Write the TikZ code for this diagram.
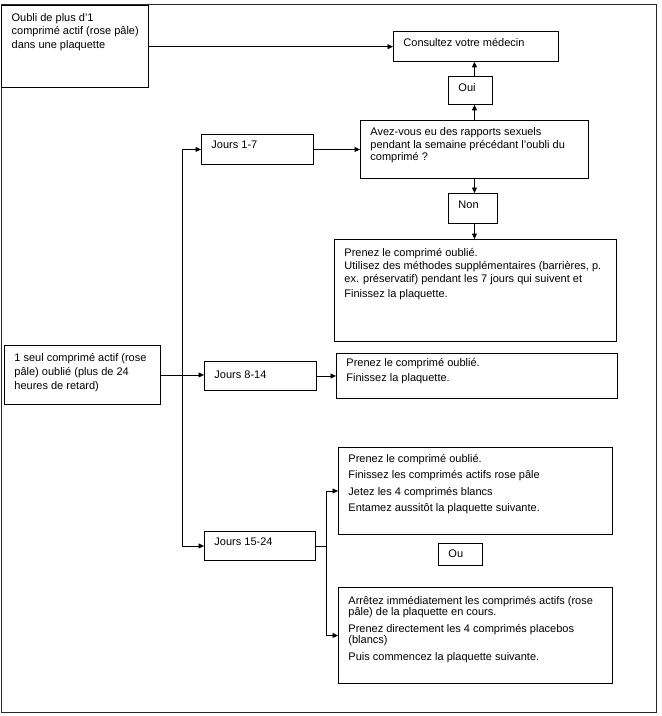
\documentclass[tikz,border=0pt]{standalone}
\usepackage{fontspec}
\setmainfont{Liberation Sans}
\usetikzlibrary{arrows.meta,calc}
\newcommand\bt[4][14.5pt]{\makebox[#2][l]{\hspace*{10pt}\parbox[c][#3][t]{#2}{\raggedright\rule{0pt}{#1}#4}}}
\begin{document}
\begin{tikzpicture}[x=1pt,y=-1pt,
  bx/.style={draw=black,line width=0.9pt,anchor=north west,inner sep=0pt,font=\fontsize{11}{12.5}\selectfont},
  arr/.style={-{Triangle[length=5.5pt,width=5pt]},line width=0.9pt},
  ln/.style={line width=0.9pt}]
\useasboundingbox (0,0) rectangle (662,716);
\draw[line width=1pt,draw=black!85] (1,4) rectangle (656,712);

\node[bx,line width=1.3pt] (a) at (1,5) {\bt[15.5pt]{147pt}{82pt}{Oubli de plus d’1\\[1pt]comprimé actif (rose pâle)\\[1pt]dans une plaquette}};
\node[bx] (cons) at (393,31) {\bt[15pt]{165pt}{30pt}{Consultez votre médecin}};
\node[bx] (oui) at (448,76) {\bt[15pt]{44pt}{28pt}{Oui}};
\node[bx] (q) at (360,120) {\bt[15.5pt]{228pt}{58pt}{Avez-vous eu des rapports sexuels\\pendant la semaine précédant l’oubli du\\comprimé ?}};
\node[bx] (j1) at (201,134) {\bt[14pt]{112pt}{30pt}{Jours 1-7}};
\node[bx] (non) at (448,193) {\bt[15pt]{49pt}{30pt}{Non}};
\node[bx] (c) at (334,239) {\bt[17pt]{282pt}{102pt}{Prenez le comprimé oublié.\\[0.5pt]Utilisez des méthodes supplémentaires (barrières, p.\\[0.5pt]ex. préservatif) pendant les 7 jours qui suivent et\\[2.5pt]Finissez la plaquette.}};
\node[bx] (b1) at (4,345) {\bt[16pt]{156pt}{59pt}{1 seul comprimé actif (rose\\[1.5pt]pâle) oublié (plus de 24\\[1.5pt]heures de retard)}};
\node[bx] (j8) at (204,361) {\bt[17pt]{112pt}{29pt}{Jours 8-14}};
\node[bx] (d) at (336,353) {\bt[13pt]{281pt}{45pt}{Prenez le comprimé oublié.\\[2.5pt]Finissez la plaquette.}};
\node[bx] (e) at (338,447) {\bt[15pt]{274pt}{87pt}{Prenez le comprimé oublié.\\[4pt]Finissez les comprimés actifs rose pâle\\[4pt]Jetez les 4 comprimés blancs\\[4pt]Entamez aussitôt la plaquette suivante.}};
\node[bx] (j15) at (204,531) {\bt[14pt]{111pt}{29pt}{Jours 15-24}};
\node[bx] (ou) at (438,543) {\bt[14pt]{44pt}{22pt}{Ou}};
\node[bx] (f) at (338,587) {\bt[17pt]{274pt}{96pt}{Arrêtez immédiatement les comprimés actifs (rose\\[-1pt]pâle) de la plaquette en cours.\\[4pt]Prenez directement les 4 comprimés placebos\\[-1pt](blancs)\\[4.5pt]Puis commencez la plaquette suivante.}};

\coordinate (sp) at (182,0);
\coordinate (br) at (326,0);

\draw[arr] (a.east) -- (a.east -| cons.west);
\draw[arr] (q.north) -- (q.north |- oui.south);
\draw[arr] (q.north |- oui.north) -- (q.north |- cons.south);
\draw[arr] (q.south) -- (q.south |- non.north);
\draw[arr] (q.south |- non.south) -- (q.south |- c.north);
\draw[arr] (j1.east) -- (j1.east -| q.west);
\draw[arr] (b1.east) -- (b1.east -| j8.west);
\draw[arr] (sp |- b1.east) |- (j1.west);
\draw[arr] (sp |- b1.east) |- (j15.west);
\draw[arr] (j8.east) -- (j8.east -| d.west);
\draw[ln] (j15.east) -- (j15.east -| br);
\draw[arr] (j15.east -| br) |- (e.west);
\draw[arr] (j15.east -| br) |- (f.west);
\end{tikzpicture}
\end{document}
